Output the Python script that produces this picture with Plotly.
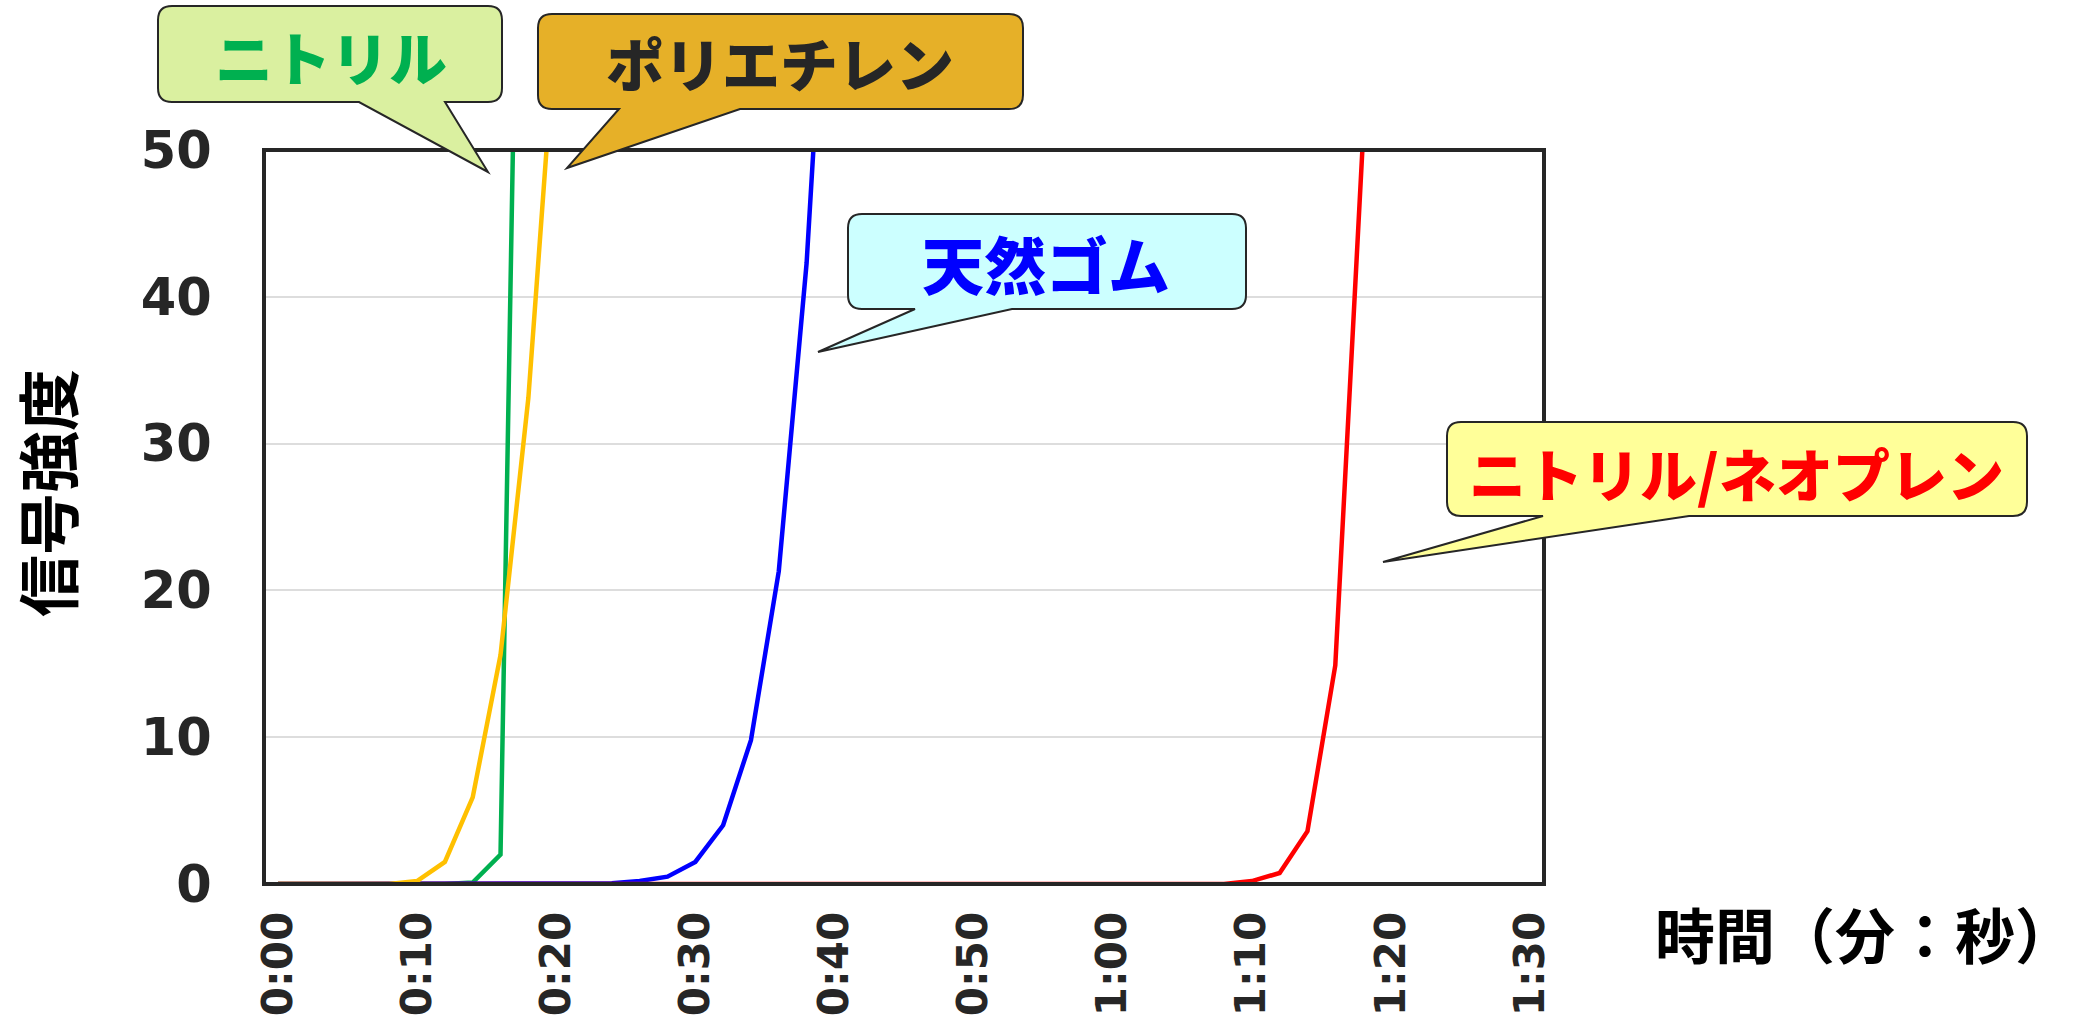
import plotly.graph_objects as go

# ---- data (seconds, signal intensity) ----
time_s = [0, 2, 4, 6, 8, 10, 12, 14, 16, 18, 20, 22, 24, 26, 28, 30, 32, 34, 36, 38, 40,
          42, 44, 46, 48, 50, 52, 54, 56, 58, 60, 62, 64, 66, 68, 70, 72, 74, 76, 78]

nitrile_t = [0, 2, 4, 6, 8, 10, 12, 14, 16, 18]
nitrile_v = [0, 0, 0, 0, 0, 0, 0, 0.1, 2.0, 110]

poly_t = [0, 2, 4, 6, 8, 10, 12, 14, 16, 18, 20]
poly_v = [0, 0, 0, 0, 0, 0.2, 1.5, 5.9, 15.6, 33.1, 59]

rubber_t = [0, 2, 4, 6, 8, 10, 12, 14, 16, 18, 20, 22, 24, 26, 28, 30, 32, 34, 36, 38, 40]
rubber_v = [0, 0, 0, 0, 0, 0, 0, 0, 0, 0, 0, 0, 0.05, 0.2, 0.5, 1.5, 4.0, 9.8, 21.3, 42.3, 74]

neo_t = time_s
neo_v = [0] * 35 + [0.2, 0.75, 3.6, 14.9, 51]

x_tickvals = [0, 10, 20, 30, 40, 50, 60, 70, 80, 90]
x_ticktext = ["0:00", "0:10", "0:20", "0:30", "0:40", "0:50", "1:00", "1:10", "1:20", "1:30"]
y_tickvals = [0, 10, 20, 30, 40, 50]

series = [
    ("ニトリル", nitrile_t, nitrile_v, "#00B050"),
    ("天然ゴム", rubber_t, rubber_v, "#0000FF"),
    ("ニトリル/ネオプレン", neo_t, neo_v, "#FF0000"),
    ("ポリエチレン", poly_t, poly_v, "#FFC000"),
]

# ---- layout geometry (pixels) ----
W, H = 2093, 1024
L, R, T, B = 264, 1544, 150, 884


def px(X):
    return (X - L) / (R - L)


def py(Y):
    return (B - Y) / (B - T)


def callout(l, t, r, b, rad, tl, tr, tipx, tipy):
    pts = [
        ("M", [(l + rad, t)]),
        ("L", [(r - rad, t)]),
        ("Q", [(r, t), (r, t + rad)]),
        ("L", [(r, b - rad)]),
        ("Q", [(r, b), (r - rad, b)]),
        ("L", [(tr, b)]),
        ("L", [(tipx, tipy)]),
        ("L", [(tl, b)]),
        ("L", [(l + rad, b)]),
        ("Q", [(l, b), (l, b - rad)]),
        ("L", [(l, t + rad)]),
        ("Q", [(l, t), (l + rad, t)]),
    ]
    s = ""
    for cmd, ps in pts:
        s += cmd + " " + " ".join(f"{px(x):.5f},{py(y):.5f}" for x, y in ps) + " "
    return s + "Z"


fig = go.Figure()
for name, xs, ys, col in series:
    fig.add_trace(go.Scatter(x=xs, y=ys, mode="lines", name=name,
                             line=dict(color=col, width=4.5), showlegend=False))

shapes = [
    dict(type="rect", xref="paper", yref="paper", x0=0, x1=1, y0=0, y1=1,
         line=dict(color="#262626", width=4), fillcolor="rgba(0,0,0,0)", layer="above"),
]

callouts = [
    # box l,t,r,b, radius, tail left, tail right, tip x, tip y, fill, text, color, size, cx, cy
    (158, 6, 502, 102, 14, 359, 445, 488, 172, "#DAF0A0", "ニトリル", "#00B050", 58, 331, 56),
    (538, 14, 1023, 109, 14, 619, 740, 567, 168, "#E6B028", "ポリエチレン", "#262626", 58, 780, 62),
    (848, 214, 1246, 309, 14, 915, 1012, 818, 352, "#CCFFFF", "天然ゴム", "#0000FF", 62, 1046, 263),
    (1447, 422, 2027, 516, 14, 1543, 1689, 1383, 562, "#FFFF99", "ニトリル/ネオプレン", "#FF0000", 57, 1736, 472),
]

annotations = []
for (l, t, r, b, rad, tl, tr, tipx, tipy, fill, text, tcol, size, cx, cy) in callouts:
    shapes.append(dict(type="path", xref="paper", yref="paper",
                       path=callout(l, t, r, b, rad, tl, tr, tipx, tipy),
                       fillcolor=fill, line=dict(color="#262626", width=2), layer="above"))
    annotations.append(dict(xref="paper", yref="paper", x=px(cx), y=py(cy),
                            xanchor="center", yanchor="middle", showarrow=False,
                            text=text,
                            font=dict(family="Noto Sans CJK JP", size=size, color=tcol, weight=900)))

annotations.append(dict(xref="paper", yref="paper", x=px(46), y=py(493), textangle=-90,
                        xanchor="center", yanchor="middle", showarrow=False, text="信号強度",
                        font=dict(family="Noto Sans CJK JP", size=62, color="#000000", weight="bold")))
annotations.append(dict(xref="paper", yref="paper", x=px(1865), y=py(932),
                        xanchor="center", yanchor="middle", showarrow=False, text="時間（分：秒）",
                        font=dict(family="Noto Sans CJK JP", size=60, color="#000000", weight="bold")))

fig.update_layout(
    width=W, height=H, autosize=False,
    margin=dict(l=L, r=W - R, t=T, b=H - B, pad=0, autoexpand=False),
    paper_bgcolor="white", plot_bgcolor="white",
    shapes=shapes, annotations=annotations,
    xaxis=dict(range=[-1, 91], tickvals=x_tickvals, ticktext=x_ticktext, tickangle=-90,
               automargin=False,
               showgrid=False, zeroline=False, showline=False,
               ticks="outside", ticklen=10, tickcolor="rgba(0,0,0,0)",
               tickfont=dict(family="DejaVu Sans", size=42, color="#262626", weight="bold")),
    yaxis=dict(range=[0, 50], tickvals=y_tickvals, showgrid=True, gridcolor="#DDDDDD", gridwidth=2,
               automargin=False,
               zeroline=False, showline=False,
               ticks="outside", ticklen=41, tickcolor="rgba(0,0,0,0)",
               tickfont=dict(family="DejaVu Sans", size=51, color="#262626", weight="bold")),
)

fig.write_html("out.html")
